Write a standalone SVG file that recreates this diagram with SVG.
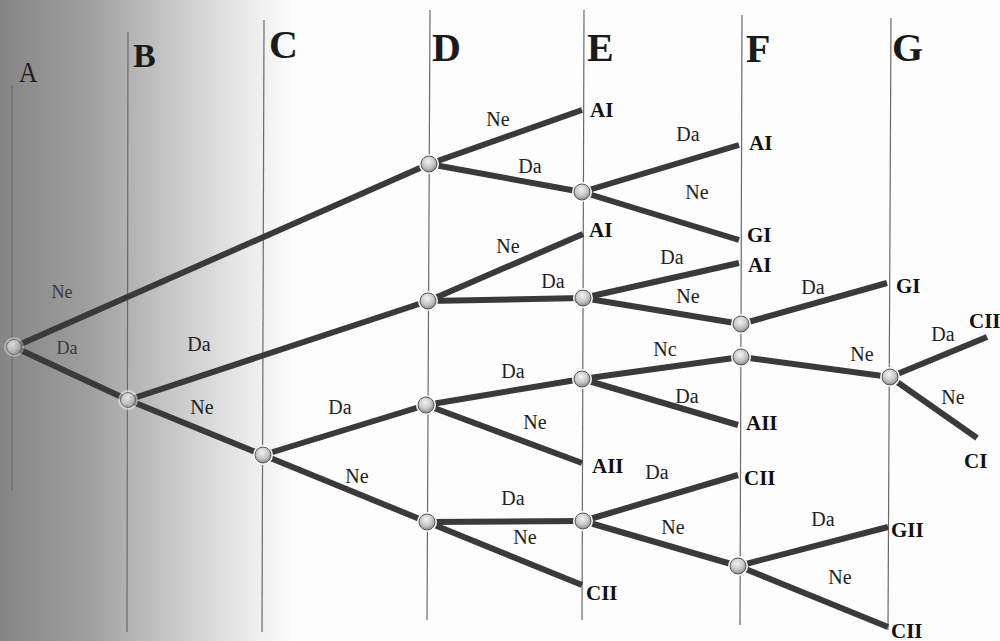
<svg xmlns="http://www.w3.org/2000/svg" width="1000" height="641" viewBox="0 0 1000 641">
<defs>
<linearGradient id="bg" x1="0" y1="0" x2="1" y2="0">
<stop offset="0" stop-color="#858585"/>
<stop offset="0.3" stop-color="#9e9e9e"/>
<stop offset="0.6" stop-color="#c8c8c8"/>
<stop offset="0.85" stop-color="#eaeaea"/>
<stop offset="1" stop-color="#fafafa"/>
</linearGradient>
<radialGradient id="ball" cx="0.45" cy="0.35" r="0.65">
<stop offset="0" stop-color="#f4f4f4"/>
<stop offset="0.6" stop-color="#c6c6c6"/>
<stop offset="1" stop-color="#8a8a8a"/>
</radialGradient>
<style>
.axis{stroke:#6a6a6a;stroke-width:1.2;fill:none}
.edge{stroke:#3a3a3a;stroke-width:6;stroke-linecap:butt;fill:none}
.col{font-family:"Liberation Serif",serif;font-weight:bold;font-size:40px;fill:#1a1a1a}
.lbl{font-family:"Liberation Serif",serif;font-size:20px;fill:#222}
.term{font-family:"Liberation Serif",serif;font-weight:bold;font-size:21px;fill:#111}
.halo{fill:#ffffff}
.node{fill:url(#ball);stroke:#555;stroke-width:1}
</style>
</defs>
<rect x="0" y="0" width="1000" height="641" fill="#fdfdfd"/>
<rect x="0" y="0" width="290" height="641" fill="url(#bg)"/>

<g id="axes">
<line class="axis" x1="12" y1="85" x2="12" y2="490"/>
<line class="axis" x1="128" y1="32" x2="127" y2="632"/>
<line class="axis" x1="264" y1="20" x2="262" y2="632"/>
<line class="axis" x1="430" y1="10" x2="427" y2="620"/>
<line class="axis" x1="584" y1="10" x2="582" y2="620"/>
<line class="axis" x1="742" y1="15" x2="740" y2="625"/>
<line class="axis" x1="891" y1="18" x2="888" y2="630"/>
</g>

<g id="columns">
<text class="col" x="19" y="82" style="font-size:30px;font-weight:normal;fill:#1e1e1e" transform="translate(19 82) scale(0.85 1) translate(-19 -82)">A</text>
<text class="col" x="133" y="67" style="font-size:34px">B</text>
<text class="col" x="269" y="58">C</text>
<text class="col" x="432" y="61">D</text>
<text class="col" x="587" y="61">E</text>
<text class="col" x="746" y="62">F</text>
<text class="col" x="892" y="61">G</text>
</g>

<g id="connectors">
<line class="edge" x1="14" y1="347" x2="429" y2="164"/>
<line class="edge" x1="14" y1="347" x2="128" y2="400"/>
<line class="edge" x1="128" y1="400" x2="428" y2="301"/>
<line class="edge" x1="128" y1="400" x2="263" y2="455"/>
<line class="edge" x1="263" y1="455" x2="426" y2="405"/>
<line class="edge" x1="263" y1="455" x2="427" y2="522"/>
<line class="edge" x1="429" y1="164" x2="582" y2="110"/>
<line class="edge" x1="429" y1="164" x2="582" y2="192"/>
<line class="edge" x1="582" y1="192" x2="739" y2="145"/>
<line class="edge" x1="582" y1="192" x2="739" y2="240"/>
<line class="edge" x1="428" y1="301" x2="583" y2="234"/>
<line class="edge" x1="428" y1="301" x2="583" y2="298"/>
<line class="edge" x1="583" y1="298" x2="739" y2="263"/>
<line class="edge" x1="583" y1="298" x2="741" y2="324"/>
<line class="edge" x1="741" y1="324" x2="887" y2="283"/>
<line class="edge" x1="426" y1="405" x2="582" y2="379"/>
<line class="edge" x1="426" y1="405" x2="582" y2="463"/>
<line class="edge" x1="582" y1="379" x2="741" y2="357"/>
<line class="edge" x1="582" y1="379" x2="738" y2="425"/>
<line class="edge" x1="741" y1="357" x2="890" y2="377"/>
<line class="edge" x1="890" y1="377" x2="987" y2="337"/>
<line class="edge" x1="890" y1="377" x2="977" y2="438"/>
<line class="edge" x1="427" y1="522" x2="583" y2="521"/>
<line class="edge" x1="427" y1="522" x2="582" y2="585"/>
<line class="edge" x1="583" y1="521" x2="738" y2="475"/>
<line class="edge" x1="583" y1="521" x2="738" y2="566"/>
<line class="edge" x1="738" y1="566" x2="888" y2="527"/>
<line class="edge" x1="738" y1="566" x2="888" y2="627"/>
</g>

<g id="edge-labels">
<text class="lbl" x="62" y="298" text-anchor="middle" style="font-size:18px;fill:#3a3a3a">Ne</text>
<text class="lbl" x="67" y="354" text-anchor="middle" style="font-size:18px;fill:#3a3a3a">Da</text>
<text class="lbl" x="199" y="351" text-anchor="middle">Da</text>
<text class="lbl" x="202" y="414" text-anchor="middle">Ne</text>
<text class="lbl" x="340" y="414" text-anchor="middle">Da</text>
<text class="lbl" x="357" y="483" text-anchor="middle">Ne</text>
<text class="lbl" x="498" y="126" text-anchor="middle">Ne</text>
<text class="lbl" x="530" y="173" text-anchor="middle">Da</text>
<text class="lbl" x="688" y="141" text-anchor="middle">Da</text>
<text class="lbl" x="697" y="199" text-anchor="middle">Ne</text>
<text class="lbl" x="508" y="253" text-anchor="middle">Ne</text>
<text class="lbl" x="553" y="288" text-anchor="middle">Da</text>
<text class="lbl" x="672" y="264" text-anchor="middle">Da</text>
<text class="lbl" x="688" y="303" text-anchor="middle">Ne</text>
<text class="lbl" x="813" y="294" text-anchor="middle">Da</text>
<text class="lbl" x="665" y="356" text-anchor="middle">Nc</text>
<text class="lbl" x="513" y="378" text-anchor="middle">Da</text>
<text class="lbl" x="687" y="403" text-anchor="middle">Da</text>
<text class="lbl" x="535" y="429" text-anchor="middle">Ne</text>
<text class="lbl" x="862" y="361" text-anchor="middle">Ne</text>
<text class="lbl" x="943" y="341" text-anchor="middle">Da</text>
<text class="lbl" x="953" y="404" text-anchor="middle">Ne</text>
<text class="lbl" x="657" y="479" text-anchor="middle">Da</text>
<text class="lbl" x="513" y="505" text-anchor="middle">Da</text>
<text class="lbl" x="525" y="544" text-anchor="middle">Ne</text>
<text class="lbl" x="673" y="534" text-anchor="middle">Ne</text>
<text class="lbl" x="823" y="526" text-anchor="middle">Da</text>
<text class="lbl" x="840" y="584" text-anchor="middle">Ne</text>
</g>

<g id="outcomes">
<text class="term" x="590" y="117">AI</text>
<text class="term" x="749" y="150">AI</text>
<text class="term" x="747" y="242">GI</text>
<text class="term" x="589" y="237">AI</text>
<text class="term" x="748" y="272">AI</text>
<text class="term" x="896" y="293">GI</text>
<text class="term" x="969" y="328">CII</text>
<text class="term" x="964" y="468">CI</text>
<text class="term" x="746" y="430">AII</text>
<text class="term" x="592" y="473">AII</text>
<text class="term" x="744" y="485">CII</text>
<text class="term" x="586" y="600">CII</text>
<text class="term" x="891" y="537">GII</text>
<text class="term" x="891" y="638">CII</text>
</g>

<g id="nodes">
<g id="n-A"><circle class="halo" cx="14" cy="347" r="10" style="opacity:0.35"/><circle class="node" cx="14" cy="347" r="7.5" style="opacity:0.7"/></g>
<g id="n-B"><circle class="halo" cx="128" cy="400" r="10" style="opacity:0.5"/><circle class="node" cx="128" cy="400" r="7.5" style="opacity:0.8"/></g>
<g id="n-C"><circle class="halo" cx="263" cy="455" r="10"/><circle class="node" cx="263" cy="455" r="8"/></g>
<g id="n-D1"><circle class="halo" cx="429" cy="164" r="10"/><circle class="node" cx="429" cy="164" r="8"/></g>
<g id="n-D2"><circle class="halo" cx="428" cy="301" r="10"/><circle class="node" cx="428" cy="301" r="8"/></g>
<g id="n-D3"><circle class="halo" cx="426" cy="405" r="10"/><circle class="node" cx="426" cy="405" r="8"/></g>
<g id="n-D4"><circle class="halo" cx="427" cy="522" r="10"/><circle class="node" cx="427" cy="522" r="8"/></g>
<g id="n-E1"><circle class="halo" cx="582" cy="192" r="10"/><circle class="node" cx="582" cy="192" r="8"/></g>
<g id="n-E2"><circle class="halo" cx="583" cy="298" r="10"/><circle class="node" cx="583" cy="298" r="8"/></g>
<g id="n-E3"><circle class="halo" cx="582" cy="379" r="10"/><circle class="node" cx="582" cy="379" r="8"/></g>
<g id="n-E4"><circle class="halo" cx="583" cy="521" r="10"/><circle class="node" cx="583" cy="521" r="8"/></g>
<g id="n-F1"><circle class="halo" cx="741" cy="324" r="10"/><circle class="node" cx="741" cy="324" r="8"/></g>
<g id="n-F2"><circle class="halo" cx="741" cy="357" r="10"/><circle class="node" cx="741" cy="357" r="8"/></g>
<g id="n-F3"><circle class="halo" cx="738" cy="566" r="10"/><circle class="node" cx="738" cy="566" r="8"/></g>
<g id="n-G1"><circle class="halo" cx="890" cy="377" r="10"/><circle class="node" cx="890" cy="377" r="8"/></g>
</g>
</svg>
